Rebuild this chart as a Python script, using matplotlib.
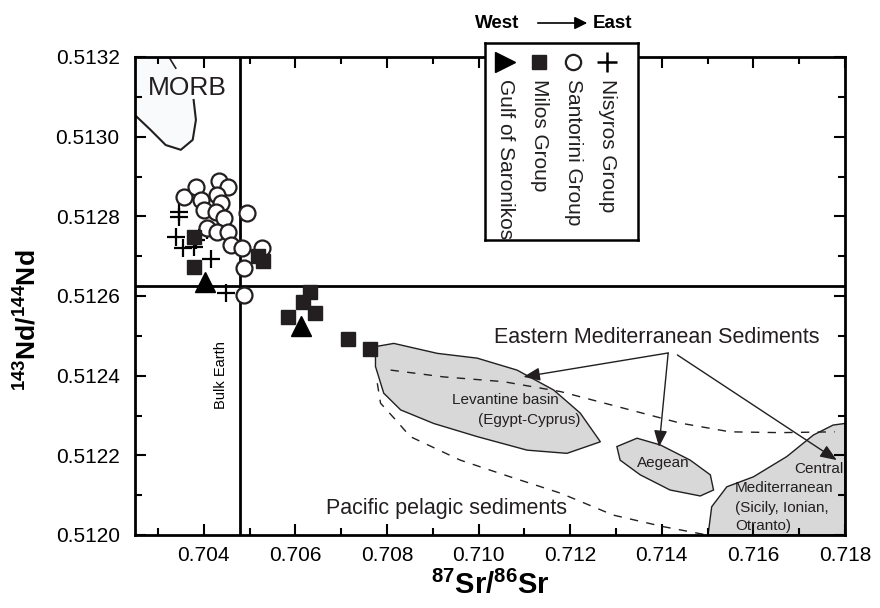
import matplotlib
matplotlib.use('Agg')
import matplotlib.pyplot as plt
from matplotlib.patches import Polygon
from matplotlib.ticker import MultipleLocator, FormatStrFormatter

plt.rcParams['font.family'] = ['Liberation Sans', 'DejaVu Sans']
plt.rcParams['mathtext.fontset'] = 'custom'
plt.rcParams['mathtext.rm'] = 'Liberation Sans'
plt.rcParams['mathtext.bf'] = 'Liberation Sans:bold'

# Dane
nisyros_sr = [0.70346, 0.70346, 0.70339, 0.70354, 0.70379, 0.70383, 0.70415, 0.70448, 0.70407]
nisyros_nd = [0.512812, 0.512799, 0.512749, 0.512720, 0.512724, 0.512741, 0.512692, 0.512607, 0.512766]

santorini_sr = [0.70357, 0.70383, 0.70433, 0.70452, 0.70393, 0.70430, 0.70437, 0.70401, 0.70426, 0.70444,
                0.70408, 0.70430, 0.70452, 0.70459, 0.70484, 0.70495, 0.70528, 0.70488, 0.70488]
santorini_nd = [0.512849, 0.512873, 0.512889, 0.512874, 0.512841, 0.512854, 0.512833, 0.512816, 0.512812, 0.512795,
                0.512770, 0.512761, 0.512761, 0.512728, 0.512720, 0.512809, 0.512720, 0.512670, 0.512603]

milos_sr = [0.70379, 0.70379, 0.70518, 0.70529, 0.70631, 0.70617, 0.70643, 0.70584, 0.70716, 0.70764]
milos_nd = [0.512747, 0.512674, 0.512701, 0.512688, 0.512609, 0.512584, 0.512558, 0.512548, 0.512491, 0.512467]

saronikos_sr = [0.70402, 0.70612]
saronikos_nd = [0.512636, 0.512525]

bulk_earth_sr = 0.7048
bulk_earth_nd = 0.512625

# Pola (obrysy)
morb_sr = [0.7025, 0.70284, 0.70317, 0.70350, 0.70376, 0.70383, 0.70378, 0.70339, 0.70324, 0.7025]
morb_nd = [0.513054, 0.513017, 0.512979, 0.512967, 0.512992, 0.513042, 0.513092, 0.513172, 0.5132, 0.5132]

levant_sr = [0.70775, 0.70815, 0.70910, 0.70997, 0.71084, 0.71164, 0.71222, 0.71266, 0.71193, 0.71106,
             0.70997, 0.70902, 0.70830, 0.70793, 0.70775]
levant_nd = [0.512473, 0.512481, 0.512456, 0.512444, 0.512414, 0.512364, 0.512306, 0.512234, 0.512205, 0.512213,
             0.512247, 0.512280, 0.512314, 0.512356, 0.512423]

aegean_sr = [0.71302, 0.71346, 0.71397, 0.71462, 0.71506, 0.71513, 0.71484, 0.71418, 0.71353, 0.71309]
aegean_nd = [0.512222, 0.512243, 0.512226, 0.512188, 0.512151, 0.512113, 0.512098, 0.512113, 0.512151, 0.512188]

central_sr = [0.71501, 0.71509, 0.71542, 0.71600, 0.71673, 0.71731, 0.71774, 0.7180, 0.7180]
central_nd = [0.5120, 0.512071, 0.512121, 0.512146, 0.512197, 0.512251, 0.512276, 0.512280, 0.5120]

pacific_up_sr = [0.70808, 0.70923, 0.71054, 0.71179, 0.71331, 0.71440, 0.71549, 0.71658, 0.71778]
pacific_up_nd = [0.512414, 0.512397, 0.512385, 0.512360, 0.512314, 0.512281, 0.512259, 0.512257, 0.512259]
pacific_lo_sr = [0.70779, 0.70786, 0.70819, 0.70851, 0.70960, 0.71069, 0.71179, 0.71294, 0.71403, 0.71499]
pacific_lo_nd = [0.512381, 0.512331, 0.512289, 0.512247, 0.512188, 0.512146, 0.512105, 0.512050, 0.512021, 0.5120]

fig = plt.figure(figsize=(8.8, 6.08), dpi=100)
ax = fig.add_axes([135 / 880, 1 - 535 / 608, 710 / 880, 478 / 608])

gray = '#d8d8d8'
ink = '#231f20'

# MORB
ax.add_patch(Polygon(list(zip(morb_sr, morb_nd)), closed=True, facecolor='#f9fafc', edgecolor='none', zorder=0))
ax.plot(morb_sr[:7], morb_nd[:7], color=ink, lw=1.5, zorder=1)
ax.plot(morb_sr[7:9], morb_nd[7:9], color=ink, lw=1.2, zorder=1)
ax.text(0.70365, 0.513122, 'MORB', fontsize=19, ha='center', va='center', color=ink)

# pola osadów
for xs, ys in [(levant_sr, levant_nd), (aegean_sr, aegean_nd), (central_sr, central_nd)]:
    ax.add_patch(Polygon(list(zip(xs, ys)), closed=True, facecolor=gray, edgecolor=ink, lw=1.0, zorder=1))
ax.plot(pacific_up_sr, pacific_up_nd, color=ink, lw=1.0, ls=(0, (6, 6)), zorder=2)
ax.plot(pacific_lo_sr, pacific_lo_nd, color=ink, lw=1.0, ls=(0, (6, 6)), zorder=2)

# linie Bulk Earth
ax.axhline(bulk_earth_nd, color='black', lw=2, zorder=3)
ax.axvline(bulk_earth_sr, color='black', lw=2, zorder=3)
ax.text(0.70437, 0.512402, 'Bulk Earth', rotation=90, fontsize=10.5, ha='center', va='center')

# punkty
ax.plot(nisyros_sr, nisyros_nd, '+', color='black', ms=13, mew=1.6, zorder=4)
ax.plot(santorini_sr, santorini_nd, 'o', mfc='white', mec=ink, ms=11.5, mew=1.6, zorder=5)
ax.plot(milos_sr, milos_nd, 's', mfc=ink, mec=ink, ms=9.5, zorder=6)
ax.plot(saronikos_sr, saronikos_nd, '^', color='black', ms=15, zorder=7)

# opisy
ax.text(0.71390, 0.512497, 'Eastern Mediterranean Sediments', fontsize=15.5, ha='center', va='center', color=ink)
ax.text(0.70930, 0.512066, 'Pacific pelagic sediments', fontsize=15.5, ha='center', va='center', color=ink)
ax.text(0.71059, 0.512339, 'Levantine basin', fontsize=11, ha='center', va='center', color=ink)
ax.text(0.71111, 0.512289, '(Egypt-Cyprus)', fontsize=11, ha='center', va='center', color=ink)
ax.text(0.71403, 0.512181, 'Aegean', fontsize=11, ha='center', va='center', color=ink)
ax.text(0.71796, 0.512166, 'Central', fontsize=11, ha='right', va='center', color=ink)
ax.text(0.71560, 0.512118, 'Mediterranean', fontsize=11, ha='left', va='center', color=ink)
ax.text(0.71560, 0.512068, '(Sicily, Ionian,', fontsize=11, ha='left', va='center', color=ink)
ax.text(0.71560, 0.512023, 'Otranto)', fontsize=11, ha='left', va='center', color=ink)

arrow = dict(arrowstyle='-|>,head_length=1.0,head_width=0.4', color=ink, lw=1.0, shrinkA=0, shrinkB=0)
ax.annotate('', xy=(0.71098, 0.512397), xytext=(0.71414, 0.512457), arrowprops=arrow, zorder=8)
ax.annotate('', xy=(0.71394, 0.512221), xytext=(0.71414, 0.512457), arrowprops=arrow, zorder=8)
ax.annotate('', xy=(0.71782, 0.512188), xytext=(0.71434, 0.512452), arrowprops=arrow, zorder=8)

# osie
ax.set_xlim(0.7025, 0.718)
ax.set_ylim(0.5120, 0.5132)
ax.xaxis.set_major_locator(MultipleLocator(0.002))
ax.xaxis.set_minor_locator(MultipleLocator(0.001))
ax.yaxis.set_major_locator(MultipleLocator(0.0002))
ax.yaxis.set_minor_locator(MultipleLocator(0.0001))
ax.xaxis.set_major_formatter(FormatStrFormatter('%.3f'))
ax.yaxis.set_major_formatter(FormatStrFormatter('%.4f'))
ax.tick_params(which='both', direction='in', top=True, right=True, width=1.5, colors='black')
ax.tick_params(which='major', length=8)
ax.tick_params(which='minor', length=5)
ax.tick_params(axis='x', labelsize=15, pad=8)
ax.tick_params(axis='y', labelsize=15, pad=11)
for s in ax.spines.values():
    s.set_linewidth(2)

ax.set_xlabel(r'$\mathbf{^{87}Sr/^{86}Sr}$', fontsize=21, labelpad=4)
fig.text(28 / 880, 1 - 320 / 608, r'$\mathbf{^{143}Nd/^{144}Nd}$', fontsize=19,
         rotation=90, ha='center', va='center')

# legenda (obrócona)
lax = fig.add_axes([485 / 880, 1 - 240 / 608, 153 / 880, 197 / 608])
lax.set_xlim(0, 153)
lax.set_ylim(197, 0)
lax.set_xticks([])
lax.set_yticks([])
for s in lax.spines.values():
    s.set_linewidth(1.8)
lax.plot(20, 19, '>', color='black', ms=14)
lax.plot(54, 19, 's', color=ink, ms=10)
lax.plot(88, 19, 'o', mfc='white', mec=ink, ms=11, mew=1.6)
lax.plot(122, 19, '+', color='black', ms=14, mew=1.8)
for xx, lab in [(20, 'Gulf of Saronikos'), (54, 'Milos Group'), (88, 'Santorini Group'), (122, 'Nisyros Group')]:
    lax.text(xx, 36, lab, rotation=270, fontsize=15, ha='center', va='top', color=ink)

fig.text(475 / 880, 1 - 23 / 608, 'West', fontsize=13.5, fontweight='bold', ha='left', va='center')
fig.text(593 / 880, 1 - 23 / 608, 'East', fontsize=13.5, fontweight='bold', ha='left', va='center')
fig.add_artist(matplotlib.patches.FancyArrowPatch((535 / 880, 1 - 23 / 608), (590 / 880, 1 - 23 / 608),
                                                  transform=fig.transFigure, arrowstyle='-|>,head_length=0.5,head_width=0.25',
                                                  color='black', lw=1.2, mutation_scale=15))

plt.savefig('out.png', dpi=100)
